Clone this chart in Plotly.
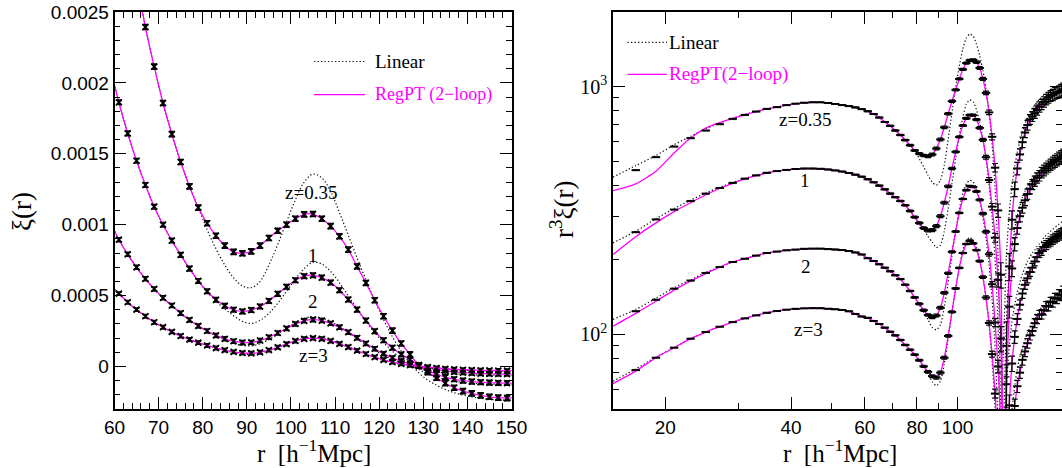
import math
import plotly.graph_objects as go

# ---------------- data (xi in units of 1e-6) ----------------
r_th = [15, 17, 19, 21, 23, 25, 27, 29, 31, 33,
        35, 37, 39, 41, 43, 45, 47, 49, 51, 53,
        55, 57, 59, 61, 63, 65, 67, 69, 71, 73,
        75, 77, 79, 81, 83, 85, 87, 89, 91, 93,
        95, 97, 99, 101, 103, 105, 107, 109, 111, 113,
        115, 117, 119, 121, 123, 125, 127, 129, 131, 133,
        135, 137, 139, 141, 143, 145, 147, 149, 151, 153,
        155, 157, 159, 161, 163, 165, 167, 169, 171, 173,
        175, 177, 179, 181]

r_nb = [17, 19, 21, 23, 25, 27, 29, 31, 33,
        35, 37, 39, 41, 43, 45, 47, 49, 51, 53,
        55, 57, 59, 61, 63, 65, 67, 69, 71, 73,
        75, 77, 79, 81, 83, 85, 87, 89, 91, 93,
        95, 97, 99, 101, 103, 105, 107, 109, 111, 113,
        115, 117, 119, 121, 123, 125, 127, 129, 131, 133,
        135, 137, 139, 141, 143, 145, 147, 149, 151, 153,
        155, 157, 159, 161, 163, 165, 167, 169, 171, 173,
        175, 177, 179, 181]

# z = 0.35
lin_z035 = [127700, 97700, 76830, 62950, 51780, 43200, 36170, 30550, 25910, 22120,
            19010, 16310, 14190, 12380, 10830, 9481, 8322, 7301, 6415, 5656,
            5013, 4449, 3949, 3503, 3099, 2731, 2394, 2115, 1858, 1639,
            1442, 1270, 1120, 965, 830, 715, 625, 568, 556, 600,
            715, 860, 1020, 1175, 1300, 1357, 1330, 1235, 1085, 925,
            765, 612, 465, 330, 210, 108, 25, -45, -95, -132,
            -162, -185, -202, -215, -225, -232, -236, -238, -237, -235,
            -232, -229, -225, -221, -216, -211, -206, -200, -195, -189,
            -184, -179, -174, -169]
reg_z035 = [112600, 82430, 66340, 58310, 50960, 43520, 36330, 30500, 25810, 22070,
            18960, 16310, 14190, 12380, 10830, 9481, 8322, 7301, 6415, 5656,
            5013, 4449, 3949, 3503, 3099, 2731, 2394, 2115, 1858, 1639,
            1442, 1270, 1120, 1010, 922, 852, 808, 798, 812, 852,
            906, 957, 1000, 1042, 1073, 1075, 1042, 990, 918, 824,
            706, 589, 467, 354, 253, 162, 85, 9, -40, -80,
            -118, -150, -174, -190, -204, -214, -220, -223, -220, -218,
            -216, -214, -211, -208, -205, -201, -197, -192, -188, -183,
            -178, -174, -170, -165]
nb_z035 = [93630, 75670, 61870, 50880, 42560, 35820, 30380, 25810, 22070,
           18960, 16310, 14190, 12380, 10830, 9481, 8322, 7301, 6415, 5656,
           5013, 4449, 3949, 3503, 3099, 2731, 2394, 2115, 1858, 1639,
           1442, 1270, 1120, 1010, 922, 852, 808, 798, 812, 852,
           906, 957, 1000, 1042, 1073, 1075, 1042, 990, 918, 824,
           706, 589, 467, 354, 253, 162, 85, 9, -40, -80,
           -118, -150, -174, -190, -204, -214, -220, -223, -220, -218,
           -216, -214, -211, -208, -205, -201, -197, -192, -188, -183,
           -178, -174, -170, -165]

# z = 1
lin_z1 = [69330, 53120, 42720, 34770, 28600, 23810, 19920, 16810, 14300, 12220,
          10500, 9002, 7772, 6747, 5874, 5125, 4488, 3935, 3460, 3050,
          2693, 2381, 2108, 1863, 1644, 1451, 1280, 1127, 1000, 888,
          787, 690, 603, 525, 462, 405, 358, 318, 304, 325,
          375, 445, 530, 615, 690, 735, 722, 670, 590, 498,
          405, 318, 238, 168, 108, 57, 15, -22, -52, -75,
          -92, -104, -112, -118, -122, -124, -125, -125, -124, -123,
          -121, -119, -117, -115, -113, -111, -108, -106, -104, -101,
          -99, -97, -95, -92]
reg_z1 = [62220, 50480, 41110, 33800, 27940, 23420, 19710, 16690, 14230, 12160,
          10450, 9002, 7772, 6747, 5874, 5125, 4488, 3935, 3460, 3050,
          2693, 2381, 2108, 1863, 1644, 1451, 1280, 1127, 1000, 888,
          787, 690, 603, 530, 470, 428, 400, 388, 398, 423,
          462, 512, 562, 608, 637, 643, 627, 592, 538, 472,
          401, 324, 249, 185, 132, 85, 47, 9, -28, -55,
          -75, -90, -100, -107, -111, -114, -116, -117, -117, -116,
          -115, -113, -112, -110, -108, -106, -104, -102, -100, -98,
          -96, -94, -92, -90]
nb_z1 = [52620, 42430, 34450, 28360, 23680, 19810, 16770, 14270, 12190,
         10470, 9002, 7772, 6747, 5874, 5125, 4488, 3935, 3460, 3050,
         2693, 2381, 2108, 1863, 1644, 1451, 1280, 1127, 1000, 888,
         787, 690, 603, 530, 470, 428, 400, 388, 398, 423,
         462, 512, 562, 608, 637, 643, 627, 592, 538, 472,
         401, 324, 249, 185, 132, 85, 47, 9, -28, -55,
         -75, -90, -100, -107, -111, -114, -116, -117, -117, -116,
         -115, -113, -112, -110, -108, -106, -104, -102, -100, -98,
         -96, -94, -92, -90]

# z = 2
lin_z2 = [34070, 25650, 20410, 16680, 13640, 11390, 9500, 8036, 6781, 5788,
          4968, 4264, 3683, 3192, 2786, 2436, 2138, 1878, 1659, 1471,
          1304, 1156, 1023, 894, 791, 699, 618, 547, 484, 430,
          376, 328, 286, 248, 215, 187, 162, 148, 145, 160,
          190, 228, 270, 310, 340, 350, 342, 318, 282, 240,
          196, 153, 113, 78, 47, 22, 2, -15, -28, -38,
          -46, -51, -55, -58, -60, -61, -62, -62, -62, -61,
          -61, -60, -59, -59, -58, -57, -56, -55, -54, -53,
          -52, -51, -50, -49]
reg_z2 = [32000, 24750, 19830, 16300, 13480, 11260, 9500, 8036, 6781, 5788,
          4968, 4264, 3683, 3192, 2786, 2436, 2138, 1878, 1659, 1471,
          1304, 1156, 1023, 894, 791, 699, 618, 547, 484, 430,
          376, 328, 286, 250, 219, 195, 178, 169, 170, 183,
          206, 236, 268, 300, 322, 330, 324, 304, 276, 242,
          202, 162, 125, 90, 60, 38, 20, 4, -10, -22,
          -31, -38, -43, -47, -50, -52, -53, -54, -54, -55,
          -55, -55, -54, -54, -53, -52, -51, -50, -49, -48,
          -47, -46, -45, -44]
nb_z2 = [25240, 20120, 16520, 13560, 11330, 9500, 8036, 6781, 5788,
         4968, 4264, 3683, 3192, 2786, 2436, 2138, 1878, 1659, 1471,
         1304, 1156, 1023, 894, 791, 699, 618, 547, 484, 430,
         376, 328, 286, 250, 219, 195, 178, 169, 170, 183,
         206, 236, 268, 300, 322, 330, 324, 304, 276, 242,
         202, 162, 125, 90, 60, 38, 20, 4, -10, -22,
         -31, -38, -43, -47, -50, -52, -53, -54, -54, -55,
         -55, -55, -54, -54, -53, -52, -51, -50, -49, -48,
         -47, -46, -45, -44]

# z = 3
lin_z3 = [19200, 14760, 11810, 9545, 7898, 6541, 5456, 4596, 3894, 3320,
          2852, 2454, 2121, 1840, 1602, 1400, 1228, 1079, 952, 843,
          745, 653, 575, 514, 453, 401, 354, 312, 277, 244,
          215, 190, 168, 148, 130, 112, 98, 88, 86, 95,
          112, 134, 158, 182, 200, 206, 201, 185, 164, 139,
          113, 87, 64, 44, 27, 14, 4, -3, -9, -15,
          -20, -24, -27, -29, -30, -31, -32, -32, -32, -32,
          -32, -32, -32, -31, -31, -30, -30, -29, -29, -28,
          -28, -27, -27, -26]
reg_z3 = [18760, 14470, 11740, 9545, 7898, 6541, 5456, 4596, 3894, 3320,
          2852, 2454, 2121, 1840, 1602, 1400, 1228, 1079, 952, 843,
          745, 653, 575, 514, 453, 401, 354, 312, 277, 244,
          215, 190, 168, 148, 130, 115, 103, 95, 93, 100,
          115, 135, 158, 180, 195, 200, 195, 180, 160, 137,
          112, 88, 66, 47, 31, 18, 9, 2, -4, -11,
          -16, -20, -23, -25, -27, -28, -29, -30, -30, -31,
          -31, -31, -30, -30, -30, -29, -29, -28, -28, -27,
          -27, -26, -26, -25]
nb_z3 = [14610, 11740, 9545, 7898, 6541, 5456, 4596, 3894, 3320,
         2852, 2454, 2121, 1840, 1602, 1400, 1228, 1079, 952, 843,
         745, 653, 575, 514, 453, 401, 354, 312, 277, 244,
         215, 190, 168, 148, 130, 115, 103, 95, 93, 100,
         115, 135, 158, 180, 195, 200, 195, 180, 160, 137,
         112, 88, 66, 47, 31, 18, 9, 2, -4, -11,
         -16, -20, -23, -25, -27, -28, -29, -30, -30, -31,
         -31, -31, -30, -30, -30, -29, -29, -28, -28, -27,
         -27, -26, -26, -25]

# N-body error on xi (per redshift)
sigma_left = [1.8e-5, 1.6e-5, 1.4e-5, 1.2e-5]
sigma_right = [1.0e-5, 5.5e-6, 2.2e-6, 1.3e-6]

labels_left = [("z=0.35", 104.6, 0.001229), ("1", 105.1, 0.000782),
               ("2", 105.1, 0.00046), ("z=3", 105.0, 0.000074)]
labels_right = [("z=0.35", 43.2, 736), ("1", 43.2, 419),
                ("2", 43.4, 188.6), ("z=3", 44.0, 104.7)]

x_ticks_left = [60, 70, 80, 90, 100, 110, 120, 130, 140, 150]
y_ticks_left = [0, 0.0005, 0.001, 0.0015, 0.002, 0.0025]
y_ticktext_left = ["0", "0.0005", "0.001", "0.0015", "0.002", "0.0025"]
x_ticks_right = [20, 40, 60, 80, 100]
x_minor_right = [30, 50, 70, 90]
y_ticks_right = [100, 1000]
y_ticktext_right = ["10<sup>2</sup>", "10<sup>3</sup>"]
y_minor_right = [60, 70, 80, 90, 200, 300, 400, 500, 600, 700, 800, 900, 2000]

# ---------------- figure ----------------
W, H = 1062, 468
def px(x):
    return x / W
def py(y):
    return 1 - y / H

MAG = "#ff00ff"
SERIF = "Liberation Serif, DejaVu Serif, serif"
SANS = "Liberation Sans, Arial, sans-serif"
DOT = "1.3px,2.2px"

fig = go.Figure()
series = [(lin_z035, reg_z035, nb_z035), (lin_z1, reg_z1, nb_z1),
          (lin_z2, reg_z2, nb_z2), (lin_z3, reg_z3, nb_z3)]

for i, (lin, reg, nb) in enumerate(series):
    # left panel: xi(r)
    fig.add_trace(go.Scatter(x=r_th, y=[v * 1e-6 for v in lin], mode="lines",
                             line=dict(color="#111", width=1.2, dash=DOT, shape="spline"),
                             xaxis="x", yaxis="y", showlegend=False, hoverinfo="skip"))
    fig.add_trace(go.Scatter(x=r_th, y=[v * 1e-6 for v in reg], mode="lines",
                             line=dict(color=MAG, width=1.3, shape="spline"),
                             xaxis="x", yaxis="y", showlegend=False, hoverinfo="skip"))
    fig.add_trace(go.Scatter(x=r_nb, y=[v * 1e-6 for v in nb], mode="markers",
                             marker=dict(symbol="x-thin", size=6, color="black",
                                         line=dict(width=1.7, color="black")),
                             error_y=dict(type="constant", value=sigma_left[i], width=3,
                                          thickness=1.5, color="black"),
                             xaxis="x", yaxis="y", showlegend=False, hoverinfo="skip"))
    # right panel: r^3 |xi(r)|
    fig.add_trace(go.Scatter(x=r_th, y=[r ** 3 * abs(v) * 1e-6 for r, v in zip(r_th, lin)],
                             mode="lines",
                             line=dict(color="#111", width=1.2, dash=DOT, shape="spline",
                                       smoothing=0.6),
                             xaxis="x2", yaxis="y2", showlegend=False, hoverinfo="skip"))
    fig.add_trace(go.Scatter(x=r_th, y=[r ** 3 * abs(v) * 1e-6 for r, v in zip(r_th, reg)],
                             mode="lines",
                             line=dict(color=MAG, width=1.3, shape="spline", smoothing=0.6),
                             xaxis="x2", yaxis="y2", showlegend=False, hoverinfo="skip"))
    fig.add_trace(go.Scatter(x=r_nb, y=[r ** 3 * abs(v) * 1e-6 for r, v in zip(r_nb, nb)],
                             mode="markers",
                             marker=dict(symbol="line-ew", size=6, color="black",
                                         line=dict(width=2, color="black")),
                             error_y=dict(type="data",
                                          array=[r ** 3 * sigma_right[i] for r in r_nb],
                                          width=3, thickness=1.2, color="black"),
                             xaxis="x2", yaxis="y2", showlegend=False, hoverinfo="skip"))

axis_common = dict(showline=True, linecolor="black", linewidth=1.5, mirror="ticks",
                   ticks="inside", ticklen=12, tickwidth=1.2, tickcolor="black",
                   showgrid=False, zeroline=False, automargin=False)

fig.update_layout(
    width=W, height=H,
    margin=dict(l=0, r=0, t=0, b=0, pad=0, autoexpand=False),
    paper_bgcolor="white", plot_bgcolor="white",
    xaxis=dict(domain=[px(114.5), px(511.5)], range=[60, 150],
               tickmode="array", tickvals=x_ticks_left,
               tickfont=dict(family=SANS, size=19, color="black"),
               minor=dict(dtick=2, ticks="inside", ticklen=6, tickwidth=1, tickcolor="black"),
               anchor="y", **axis_common),
    yaxis=dict(domain=[py(409), py(12)], range=[-0.0003, 0.0025],
               tickmode="array", tickvals=y_ticks_left, ticktext=y_ticktext_left,
               tickfont=dict(family=SANS, size=19, color="black"),
               minor=dict(dtick=0.0001, ticks="inside", ticklen=6, tickwidth=1, tickcolor="black"),
               anchor="x", **axis_common),
    xaxis2=dict(type="log", domain=[px(613), 1.0], range=[math.log10(15), math.log10(177.8)],
                tickmode="array", tickvals=x_ticks_right, ticktext=[str(t) for t in x_ticks_right],
                tickfont=dict(family=SANS, size=19, color="black"),
                minor=dict(tickmode="array", tickvals=x_minor_right, ticks="inside",
                           ticklen=6, tickwidth=1, tickcolor="black"),
                anchor="y2", **axis_common),
    yaxis2=dict(type="log", domain=[py(409), py(12)], range=[math.log10(50), math.log10(2000)],
                tickmode="array", tickvals=y_ticks_right, ticktext=y_ticktext_right,
                tickfont=dict(family=SERIF, size=20, color="black"),
                minor=dict(tickmode="array", tickvals=y_minor_right, ticks="inside",
                           ticklen=6, tickwidth=1, tickcolor="black"),
                anchor="x2", **axis_common),
)

def paper_text(x, y, text, size, color="black", angle=0, xanchor="center"):
    return dict(x=px(x), y=py(y), xref="paper", yref="paper", showarrow=False,
                xanchor=xanchor, yanchor="middle", textangle=angle, text=text,
                font=dict(family=SERIF, size=size, color=color))

ann = []
# axis titles
ann.append(paper_text(313.5, 451, "r  [h<sup>−1</sup>Mpc]", 25))
ann.append(paper_text(840, 451, "r  [h<sup>−1</sup>Mpc]", 25))
ann.append(paper_text(22, 212, "ξ(r)", 27, angle=-90))
ann.append(paper_text(562, 210, "r<sup>3</sup>ξ(r)", 27, angle=-90))
# redshift labels
for t, xv, yv in labels_left:
    ann.append(dict(x=xv, y=yv, xref="x", yref="y", showarrow=False, text=t,
                    xanchor="center", yanchor="middle",
                    font=dict(family=SERIF, size=19, color="black")))
for t, xv, yv in labels_right:
    ann.append(dict(x=math.log10(xv), y=math.log10(yv), xref="x2", yref="y2", showarrow=False,
                    text=t, xanchor="center", yanchor="middle",
                    font=dict(family=SERIF, size=19, color="black")))
# legends
ann.append(paper_text(373, 61.5, "Linear", 19, xanchor="left"))
ann.append(paper_text(373, 94.7, "RegPT (2−loop)", 18, color=MAG, xanchor="left"))
ann.append(paper_text(667, 42.3, "Linear", 19, xanchor="left"))
ann.append(paper_text(667, 74.4, "RegPT(2−loop)", 19, color=MAG, xanchor="left"))
fig.update_layout(annotations=ann)

shapes = [
    dict(type="line", xref="paper", yref="paper", x0=px(314), x1=px(365), y0=py(61.5), y1=py(61.5),
         line=dict(color="#111", width=1.2, dash=DOT)),
    dict(type="line", xref="paper", yref="paper", x0=px(314), x1=px(365), y0=py(94.7), y1=py(94.7),
         line=dict(color=MAG, width=1.3)),
    dict(type="line", xref="paper", yref="paper", x0=px(627.5), x1=px(667), y0=py(42.3), y1=py(42.3),
         line=dict(color="#111", width=1.2, dash=DOT)),
    dict(type="line", xref="paper", yref="paper", x0=px(627.5), x1=px(667), y0=py(74.4), y1=py(74.4),
         line=dict(color=MAG, width=1.3)),
]
fig.update_layout(shapes=shapes)

fig.write_html("out.html",
               config={"displayModeBar": False},
               post_script="document.body.style.margin='0px';document.body.style.overflow='hidden';")
